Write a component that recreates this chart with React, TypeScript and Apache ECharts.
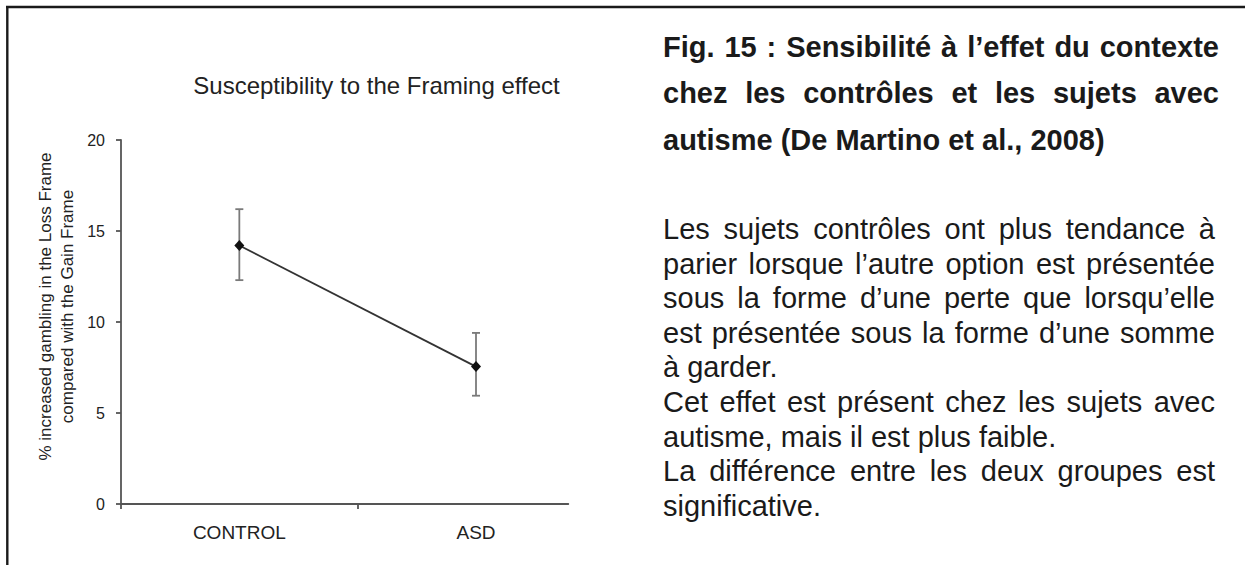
import React, { useEffect, useRef } from "react";
import * as echarts from "echarts";

// ---------- data ----------
const categories = ["CONTROL", "ASD"];
const meanValues = [14.2, 7.55];
const upperValues = [16.2, 9.4];
const lowerValues = [12.3, 5.95];
const yTickValues = [0, 5, 10, 15, 20];
const chartTitle = "Susceptibility to the Framing effect";
const yAxisNameLines = ["% increased gambling in the Loss Frame", "compared with the Gain Frame"];

const captionTitleLines = [
  "Fig. 15 : Sensibilité à l’effet du contexte",
  "chez les contrôles et les sujets avec",
  "autisme (De Martino et al., 2008)",
];
const captionTitleJustify = [true, true, false];

const captionBodyLines = [
  "Les sujets contrôles ont plus tendance à",
  "parier lorsque l’autre option est présentée",
  "sous la forme d’une perte que lorsqu’elle",
  "est présentée sous la forme d’une somme",
  "à garder.",
  "Cet effet est présent chez les sujets avec",
  "autisme, mais il est plus faible.",
  "La différence entre les deux groupes est",
  "significative.",
];
const captionBodyJustify = [true, true, true, true, false, true, false, true, false];

// ---------- layout / style ----------
const FONT = "Arial, 'Liberation Sans', Helvetica, sans-serif";
const W = 1245;
const H = 565;

let measureCtx: CanvasRenderingContext2D | null = null;
function measure(text: string, font: string): number {
  if (!measureCtx) measureCtx = document.createElement("canvas").getContext("2d");
  if (!measureCtx) return text.length * 14;
  measureCtx.font = font;
  return measureCtx.measureText(text).width;
}

function textLines(
  lines: string[],
  justify: boolean[],
  left: number,
  right: number,
  y0: number,
  dy: number,
  size: number,
  weight: string,
  color: string
): any[] {
  const out: any[] = [];
  const font = `${weight} ${size}px ${FONT}`;
  lines.forEach((line, i) => {
    const y = y0 + i * dy;
    const style = { fontSize: size, fontWeight: weight, fontFamily: FONT, fill: color, align: "left", verticalAlign: "middle" };
    if (!justify[i]) {
      out.push({ type: "text", x: left, y, style: { ...style, text: line } });
      return;
    }
    const words = line.split(" ");
    const widths = words.map((w) => measure(w, font));
    const total = widths.reduce((a, b) => a + b, 0);
    const gap = words.length > 1 ? (right - left - total) / (words.length - 1) : 0;
    let x = left;
    words.forEach((w, k) => {
      out.push({ type: "text", x, y, style: { ...style, text: w } });
      x += widths[k] + gap;
    });
  });
  return out;
}

export default function App() {
  const ref = useRef<HTMLDivElement>(null);

  useEffect(() => {
    document.body.style.margin = "0";
    if (!ref.current) return;
    const chart = echarts.init(ref.current, undefined, { renderer: "svg", width: W, height: H });

    const axisColor = "#555555";
    const errColor = "#7a7a7a";

    const graphics: any[] = [
      // frame
      { type: "line", shape: { x1: 6, y1: 7, x2: W, y2: 7 }, style: { stroke: "#1a1a1a", lineWidth: 2.4 } },
      { type: "line", shape: { x1: 7.3, y1: 6, x2: 7.3, y2: H }, style: { stroke: "#1a1a1a", lineWidth: 2.4 } },
      // chart title
      {
        type: "text",
        x: 376.5,
        y: 85,
        style: { text: chartTitle, fontSize: 24, fontFamily: FONT, fill: "#222", align: "center", verticalAlign: "middle" },
      },
      // y axis name (rotated)
      {
        type: "text",
        x: 56,
        y: 306.5,
        rotation: Math.PI / 2,
        style: {
          text: yAxisNameLines.join("\n"),
          fontSize: 17,
          lineHeight: 22,
          fontFamily: FONT,
          fill: "#222",
          align: "center",
          verticalAlign: "middle",
        },
      },
      ...textLines(captionTitleLines, captionTitleJustify, 663, 1219, 47, 46.3, 29, "bold", "#1a1a1a"),
      ...textLines(captionBodyLines, captionBodyJustify, 663, 1215, 229, 34.6, 29, "normal", "#1a1a1a"),
    ];

    const option: any = {
      animation: false,
      backgroundColor: "#ffffff",
      grid: { left: 121, top: 140, width: 447.3, height: 364, containLabel: false },
      xAxis: {
        type: "value",
        min: 0,
        max: 1.89,
        axisLine: { show: true, onZero: false, lineStyle: { color: axisColor, width: 1.8 } },
        axisTick: { show: true, customValues: [0, 1], length: 5, lineStyle: { color: axisColor, width: 1.8 } },
        axisLabel: {
          customValues: categories.map((_, i) => i + 0.5),
          formatter: (v: number) => categories[Math.round(v - 0.5)] ?? "",
          fontSize: 19,
          fontFamily: FONT,
          color: "#222",
          margin: 19,
        },
        splitLine: { show: false },
      },
      yAxis: {
        type: "value",
        min: yTickValues[0],
        max: yTickValues[yTickValues.length - 1],
        interval: 5,
        axisLine: { show: true, lineStyle: { color: axisColor, width: 1.8 } },
        axisTick: { show: true, length: 5, lineStyle: { color: axisColor, width: 1.8 } },
        axisLabel: { fontSize: 16, fontFamily: FONT, color: "#222", margin: 16 },
        splitLine: { show: false },
      },
      series: [
        {
          type: "custom",
          name: "SEM",
          z: 2,
          encode: { x: 0, y: [1, 2] },
          data: categories.map((_, i) => [i + 0.5, lowerValues[i], upperValues[i]]),
          renderItem: (_params: any, api: any) => {
            const x = api.value(0);
            const lo = api.coord([x, api.value(1)]);
            const hi = api.coord([x, api.value(2)]);
            const hw = 4;
            const st = { stroke: errColor, lineWidth: 1.8 };
            return {
              type: "group",
              children: [
                { type: "line", shape: { x1: hi[0], y1: hi[1], x2: lo[0], y2: lo[1] }, style: st },
                { type: "line", shape: { x1: hi[0] - hw, y1: hi[1], x2: hi[0] + hw, y2: hi[1] }, style: st },
                { type: "line", shape: { x1: lo[0] - hw, y1: lo[1], x2: lo[0] + hw, y2: lo[1] }, style: st },
              ],
            };
          },
        },
        {
          type: "line",
          name: "Mean",
          z: 3,
          data: categories.map((_, i) => [i + 0.5, meanValues[i]]),
          symbol: "diamond",
          symbolSize: [10, 11],
          itemStyle: { color: "#111" },
          lineStyle: { color: "#333", width: 1.8 },
        },
      ],
      graphic: graphics,
    };

    chart.setOption(option);
    return () => chart.dispose();
  }, []);

  return <div ref={ref} style={{ width: W, height: H }} />;
}
